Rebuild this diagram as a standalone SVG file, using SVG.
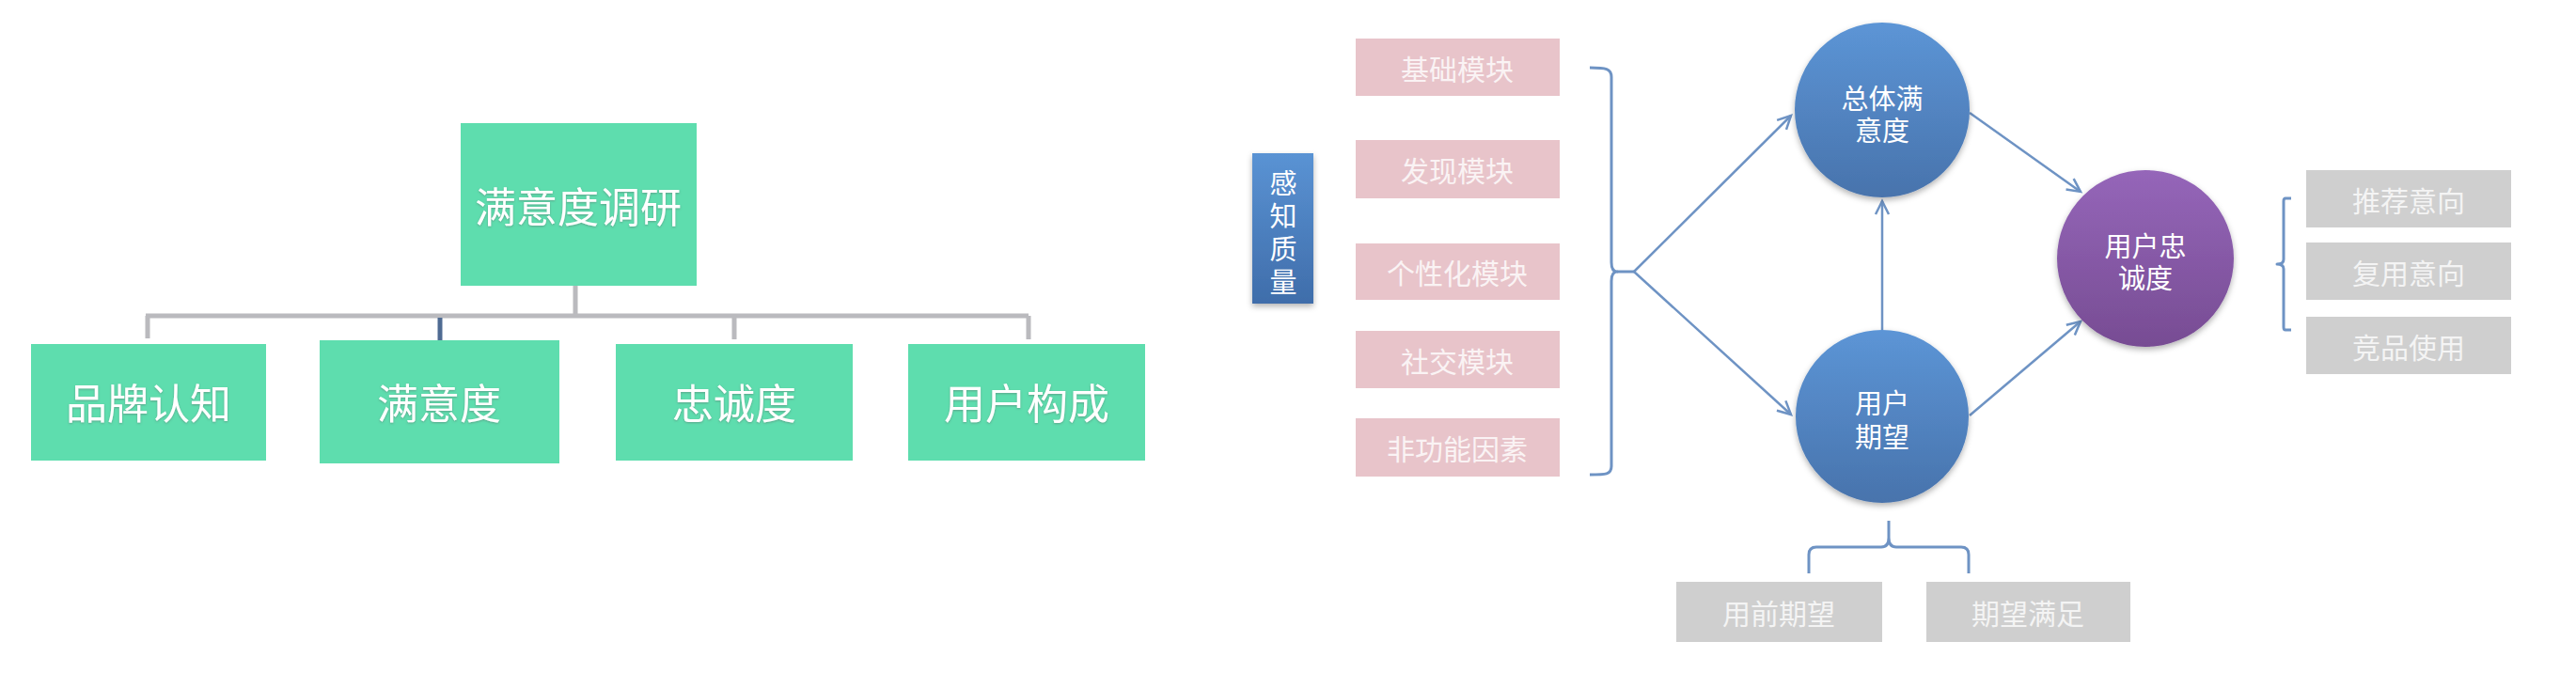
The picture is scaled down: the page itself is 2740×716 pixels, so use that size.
<svg xmlns="http://www.w3.org/2000/svg" width="2740" height="716" viewBox="0 0 2740 716">
<defs>
<style>
text{font-family:"Noto Sans CJK SC","Noto Sans",sans-serif;text-anchor:middle;dominant-baseline:central}
.g{fill:#5EDDAE}
.gt{fill:#ffffff;font-size:44px;filter:url(#ts)}
.pk{fill:#E8C4CA}
.pt{fill:#FAF3F4;font-size:30px}
.gr{fill:#CFCFCF}
.grt{fill:#F4F4F4;font-size:30px}
.ct{fill:#ffffff;font-size:29px}
.tree{stroke:#BABABE;stroke-width:5;fill:none}
.ln{stroke:#6E93C4;stroke-width:2.5;fill:none}
.br{stroke:#6E93C4;stroke-width:3;fill:none;stroke-linejoin:round}
</style>
<linearGradient id="blue" x1="0" y1="0" x2="0" y2="1">
<stop offset="0" stop-color="#5C95D6"/><stop offset="1" stop-color="#4873AC"/>
</linearGradient>
<linearGradient id="blueBox" x1="0" y1="0" x2="0" y2="1">
<stop offset="0" stop-color="#5A93D4"/><stop offset="1" stop-color="#3F6DAA"/>
</linearGradient>
<linearGradient id="purple" x1="0" y1="0" x2="0" y2="1">
<stop offset="0" stop-color="#9566B9"/><stop offset="1" stop-color="#774C93"/>
</linearGradient>
<filter id="sh" x="-20%" y="-20%" width="140%" height="150%">
<feDropShadow dx="0" dy="3" stdDeviation="3" flood-color="#000" flood-opacity="0.3"/>
</filter>
<filter id="ts" x="-10%" y="-20%" width="120%" height="150%">
<feDropShadow dx="0" dy="1" stdDeviation="1" flood-color="#5a6a66" flood-opacity="0.5"/>
</filter>
<marker id="arr" markerUnits="userSpaceOnUse" markerWidth="20" markerHeight="20" refX="15" refY="8" orient="auto" viewBox="0 0 20 16">
<path d="M1,1 L15,8 L1,15" fill="none" stroke="#6E93C4" stroke-width="2.5"/>
</marker>
</defs>
<rect width="2740" height="716" fill="#FFFFFF"/>

<g id="connectors">
<path class="tree" d="M612,304 V336 M155,336 H1094 M157,336 V360 M781,336 V361 M1094,336 V361"/>
<path d="M468,338 V363" stroke="#4F6B92" stroke-width="5" fill="none"/>
<path class="br" d="M1691,72 C1708,72 1714,73 1714,82 V279 Q1714,289 1720,289 Q1714,289 1714,299 V496 C1714,505 1708,505 1691,505"/>
<path class="br" d="M1720,289 H1738"/>
<path class="ln" marker-end="url(#arr)" d="M1738,289 L1905,123"/>
<path class="ln" marker-end="url(#arr)" d="M1738,289 L1905,441"/>
<path class="ln" marker-end="url(#arr)" d="M2002,351 V214"/>
<path class="ln" marker-end="url(#arr)" d="M2095,120 L2213,204"/>
<path class="ln" marker-end="url(#arr)" d="M2095,442 L2213,342"/>
<path class="br" d="M2009,554 V572 Q2009,582 2001,582 H1932 Q1924,582 1924,590 V610 M2009,572 Q2009,582 2017,582 H2086 Q2094,582 2094,590 V610"/>
<path class="br" d="M2437,211 H2431 Q2429,211 2429,214 V276 Q2429,281 2422,281 Q2429,281 2429,286 V348 Q2429,351 2431,351 H2437"/>
</g>

<g id="n-survey"><rect class="g" x="490" y="131" width="251" height="173"/><text class="gt" x="615" y="218">满意度调研</text></g>
<g id="n-brand"><rect class="g" x="33" y="366" width="250" height="124"/><text class="gt" x="158" y="427">品牌认知</text></g>
<g id="n-satis"><rect class="g" x="340" y="362" width="255" height="131"/><text class="gt" x="467" y="427">满意度</text></g>
<g id="n-loyal"><rect class="g" x="655" y="366" width="252" height="124"/><text class="gt" x="781" y="427">忠诚度</text></g>
<g id="n-users"><rect class="g" x="966" y="366" width="252" height="124"/><text class="gt" x="1092" y="427">用户构成</text></g>

<g id="n-perceived">
<rect x="1332" y="163" width="65" height="160" fill="url(#blueBox)" filter="url(#sh)"/>
<text class="ct" font-size="28"><tspan x="1365" y="193">感</tspan><tspan x="1365" y="228">知</tspan><tspan x="1365" y="263">质</tspan><tspan x="1365" y="298">量</tspan></text>
</g>
<g id="n-m1"><rect class="pk" x="1442" y="41" width="217" height="61"/><text class="pt" x="1550" y="72">基础模块</text></g>
<g id="n-m2"><rect class="pk" x="1442" y="149" width="217" height="62"/><text class="pt" x="1550" y="180">发现模块</text></g>
<g id="n-m3"><rect class="pk" x="1442" y="259" width="217" height="60"/><text class="pt" x="1550" y="289">个性化模块</text></g>
<g id="n-m4"><rect class="pk" x="1442" y="352" width="217" height="61"/><text class="pt" x="1550" y="383">社交模块</text></g>
<g id="n-m5"><rect class="pk" x="1442" y="445" width="217" height="62"/><text class="pt" x="1550" y="476">非功能因素</text></g>

<g id="n-overall"><circle cx="2002" cy="117" r="93" fill="url(#blue)" filter="url(#sh)"/><text class="ct"><tspan x="2002" y="103">总体满</tspan><tspan x="2002" y="137">意度</tspan></text></g>
<g id="n-expect"><circle cx="2002" cy="443" r="92" fill="url(#blue)" filter="url(#sh)"/><text class="ct"><tspan x="2002" y="427">用户</tspan><tspan x="2002" y="463">期望</tspan></text></g>
<g id="n-loyalty"><circle cx="2282" cy="275" r="94" fill="url(#purple)" filter="url(#sh)"/><text class="ct"><tspan x="2282" y="260">用户忠</tspan><tspan x="2282" y="294">诚度</tspan></text></g>

<g id="n-pre"><rect class="gr" x="1783" y="619" width="219" height="64"/><text class="grt" x="1892" y="651">用前期望</text></g>
<g id="n-met"><rect class="gr" x="2049" y="619" width="217" height="64"/><text class="grt" x="2157" y="651">期望满足</text></g>
<g id="n-rec"><rect class="gr" x="2453" y="181" width="218" height="61"/><text class="grt" x="2562" y="212">推荐意向</text></g>
<g id="n-reuse"><rect class="gr" x="2453" y="258" width="218" height="61"/><text class="grt" x="2562" y="289">复用意向</text></g>
<g id="n-comp"><rect class="gr" x="2453" y="337" width="218" height="61"/><text class="grt" x="2562" y="368">竞品使用</text></g>
</svg>
